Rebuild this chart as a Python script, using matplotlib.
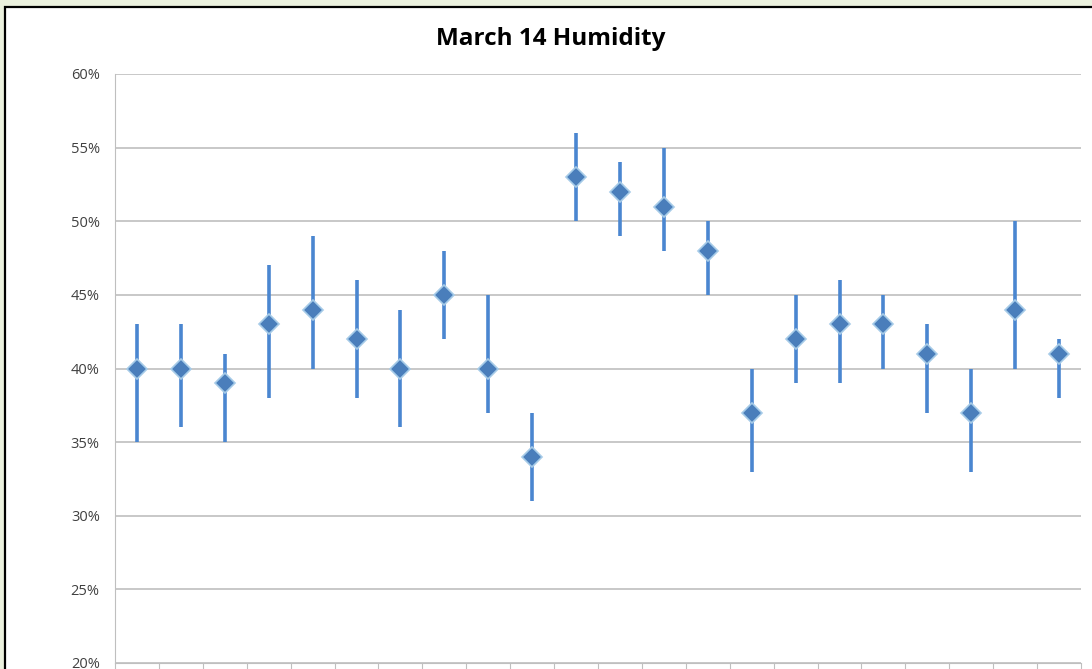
import numpy as np
import matplotlib.pyplot as plt
from matplotlib.patches import Rectangle
from matplotlib.ticker import FuncFormatter

# humidity readings (%) for each interval
avg = [40, 40, 39, 43, 44, 42, 40, 45, 40, 34, 53, 52, 51, 48, 37, 42, 43, 43, 41, 37, 44, 41]
low = [35, 36, 35, 38, 40, 38, 36, 42, 37, 31, 50, 49, 48, 45, 33, 39, 39, 40, 37, 33, 40, 38]
high = [43, 43, 41, 47, 49, 46, 44, 48, 45, 37, 56, 54, 55, 50, 40, 45, 46, 45, 43, 40, 50, 42]

W, H = 1092, 669
fig = plt.figure(figsize=(W / 100, H / 100), dpi=100, facecolor='#EBF1DE')

# white chart area with dark border (cropped at right/bottom)
fig.patches.append(Rectangle((5 / W, -0.05), 1.1, (H - 7) / H + 0.05,
                             transform=fig.transFigure, facecolor='white',
                             edgecolor='black', linewidth=1.6, zorder=-5))

ax = fig.add_axes([115 / W, 6 / H, (1081 - 115) / W, (663 - 74) / H])
ax.set_zorder(2)
ax.set_facecolor('none')

n = len(avg)
x = np.arange(n) + 0.5
ax.vlines(x, low, high, color='#4A86D0', linewidth=2.6, zorder=3)
ax.plot(x, avg, linestyle='none', marker='D', markersize=10.5,
        markerfacecolor='#4A7EBB', markeredgecolor='#A6CBE8',
        markeredgewidth=1.2, zorder=4)

ax.set_xlim(0, n)
ax.set_ylim(20, 60)
ax.set_yticks(np.arange(20, 61, 5))
ax.yaxis.set_major_formatter(FuncFormatter(lambda v, p: f'{int(v)}%'))
ax.set_xticks(np.arange(0, n + 1))
ax.set_xticklabels([])
ax.tick_params(axis='x', direction='out', length=6, color='#BFBFBF')
ax.tick_params(axis='y', length=0, pad=11, labelsize=10.5, labelcolor='#404040')
for lab in ax.get_yticklabels():
    lab.set_family('Open Sans')

ax.grid(axis='y', color='#BFBFBF', linewidth=1.2)
ax.set_axisbelow(True)
for s in ['top', 'right']:
    ax.spines[s].set_visible(False)
ax.spines['left'].set_color('#BFBFBF')
ax.spines['bottom'].set_color('#BFBFBF')

fig.text(551 / W, 1 - 39 / H, 'March 14 Humidity', ha='center', va='center',
         fontsize=17.5, fontweight='bold', family='Open Sans')

fig.savefig('out.png', dpi=100, facecolor=fig.get_facecolor())
